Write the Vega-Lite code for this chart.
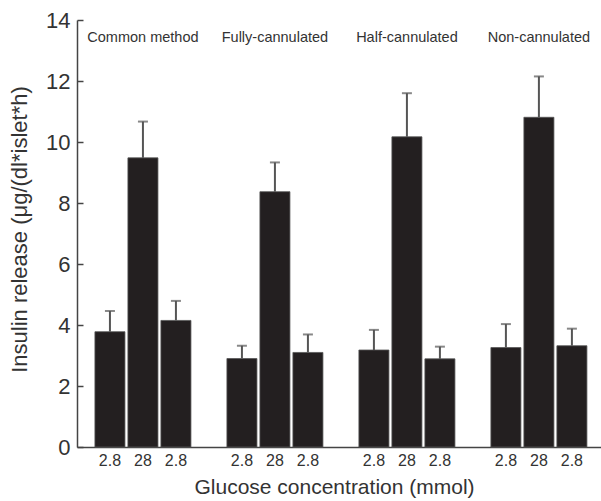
{
  "$schema": "https://vega.github.io/schema/vega-lite/v6.json",
  "width": 524,
  "height": 427,
  "autosize": {"type": "none"},
  "padding": {"left": 77, "top": 20, "right": 0, "bottom": 54},
  "background": "white",
  "config": {
    "view": {"stroke": null},
    "font": "Liberation Sans",
    "axis": {"grid": false, "domainColor": "#444", "domainWidth": 1.5, "labelColor": "#333", "titleColor": "#333", "labelFont": "Liberation Sans", "titleFont": "Liberation Sans", "titleFontWeight": "normal"}
  },
  "data": {
    "values": [
      {"id": "A1", "group": "Common method", "pos": 1, "value": 3.78, "err": 4.46},
      {"id": "A2", "group": "Common method", "pos": 2, "value": 9.48, "err": 10.67},
      {"id": "A3", "group": "Common method", "pos": 3, "value": 4.15, "err": 4.79},
      {"id": "B1", "group": "Fully-cannulated", "pos": 1, "value": 2.9, "err": 3.32},
      {"id": "B2", "group": "Fully-cannulated", "pos": 2, "value": 8.37, "err": 9.33},
      {"id": "B3", "group": "Fully-cannulated", "pos": 3, "value": 3.1, "err": 3.69},
      {"id": "C1", "group": "Half-cannulated", "pos": 1, "value": 3.18, "err": 3.84},
      {"id": "C2", "group": "Half-cannulated", "pos": 2, "value": 10.17, "err": 11.6},
      {"id": "C3", "group": "Half-cannulated", "pos": 3, "value": 2.89, "err": 3.29},
      {"id": "D1", "group": "Non-cannulated", "pos": 1, "value": 3.26, "err": 4.03},
      {"id": "D2", "group": "Non-cannulated", "pos": 2, "value": 10.81, "err": 12.15},
      {"id": "D3", "group": "Non-cannulated", "pos": 3, "value": 3.32, "err": 3.88}
    ]
  },
  "encoding": {
    "x": {
      "field": "id",
      "type": "nominal",
      "scale": {
        "domain": ["A1", "A2", "A3", "gap1", "B1", "B2", "B3", "gap2", "C1", "C2", "C3", "gap3", "D1", "D2", "D3"],
        "paddingInner": 0.09,
        "paddingOuter": 0.485,
        "align": 0.56
      },
      "axis": {
        "title": "Glucose concentration (mmol)",
        "titleFontSize": 21,
        "titleX": 257,
        "titleY": 40,
        "titleAlign": "center",
        "titleBaseline": "middle",
        "labelAngle": 0,
        "labelFontSize": 16,
        "labelPadding": 5,
        "ticks": false,
        "labelExpr": "slice(datum.value, 0, 3) == 'gap' ? '' : (slice(datum.value, 1) == '2' ? '28' : '2.8')"
      }
    }
  },
  "layer": [
    {
      "mark": {"type": "bar", "color": "#231f20", "stroke": "#555", "strokeWidth": 0.8},
      "encoding": {
        "y": {
          "field": "value",
          "type": "quantitative",
          "scale": {"domain": [0, 14], "nice": false},
          "axis": {
            "title": "Insulin release (μg/(dl*islet*h)",
            "titleFontSize": 22,
            "titleX": -58,
            "titleY": 209,
            "titleAlign": "center",
            "titleBaseline": "middle",
            "titleAngle": -90,
            "values": [0, 2, 4, 6, 8, 10, 12, 14],
            "labelFontSize": 22,
            "tickSize": -6,
            "tickColor": "#444",
            "tickWidth": 1.5,
            "labelPadding": 13
          }
        }
      }
    },
    {
      "mark": {"type": "rule", "color": "#555", "strokeWidth": 2},
      "encoding": {
        "y": {"field": "value", "type": "quantitative"},
        "y2": {"field": "err"}
      }
    },
    {
      "mark": {"type": "tick", "color": "#555", "orient": "horizontal", "size": 10, "thickness": 2},
      "encoding": {
        "y": {"field": "err", "type": "quantitative"}
      }
    },
    {
      "transform": [{"filter": "datum.pos == 2"}],
      "mark": {"type": "text", "fontSize": 14.5, "color": "#333", "font": "Liberation Sans", "baseline": "middle"},
      "encoding": {
        "y": {"datum": 13.4, "type": "quantitative"},
        "text": {"field": "group"}
      }
    }
  ]
}
